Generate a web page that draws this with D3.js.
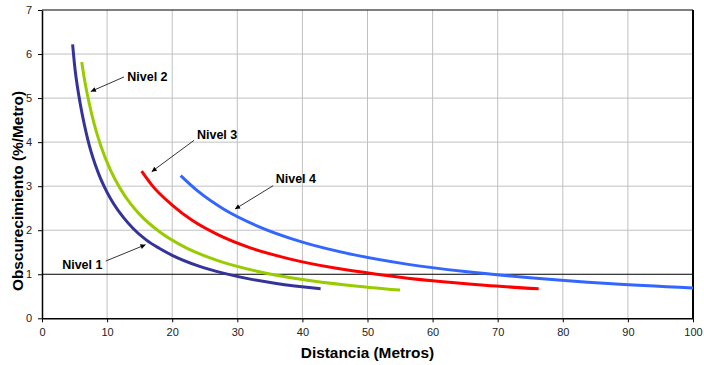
<!DOCTYPE html>
<html>
<head>
<meta charset="utf-8">
<script src="https://cdn.jsdelivr.net/npm/d3@7"></script>
<style>
  body { margin: 0; background: #fff; }
  text { font-family: Arial, "Liberation Sans", sans-serif; }
</style>
</head>
<body>
<script>
// Curves: distance (m) vs obscuration (%/m)
const nivel1Dist = [4.7, 5.1, 5.5, 6, 6.5, 7, 7.5, 8.2, 9, 10, 11, 12.5, 14, 16, 18, 20, 24, 28, 32, 36, 42.8];
const nivel1Obs  = [6.22, 5.62, 5.2, 4.77, 4.4, 4.08, 3.8, 3.48, 3.17, 2.86, 2.6, 2.29, 2.04, 1.78, 1.59, 1.43, 1.19, 1.02, 0.89, 0.79, 0.67];
const nivel2Dist = [6.1, 6.6, 7.2, 8, 9, 10.5, 12, 13.5, 15, 18, 22, 27, 33, 40, 47, 55];
const nivel2Obs  = [5.82, 5.36, 4.92, 4.42, 3.93, 3.37, 2.95, 2.62, 2.36, 1.97, 1.61, 1.31, 1.07, 0.88, 0.75, 0.64];
const nivel3Dist = [15.3, 17, 20, 23, 27, 32, 38, 45, 52, 60, 68, 76.3];
const nivel3Obs  = [3.34, 3.0, 2.57, 2.23, 1.9, 1.6, 1.35, 1.14, 0.99, 0.85, 0.75, 0.67];
const nivel4Dist = [21.3, 24, 28, 33, 40, 48, 56, 65, 75, 87, 100];
const nivel4Obs  = [3.24, 2.88, 2.47, 2.1, 1.73, 1.44, 1.23, 1.06, 0.92, 0.79, 0.69];

const seriesNames = ["Nivel 1", "Nivel 2", "Nivel 3", "Nivel 4"];
const colors = ["#333399", "#99cc00", "#ff0000", "#3366ff"];

const xTicks = d3.range(0, 101, 10);
const yTicks = d3.range(0, 8, 1);

// label text anchor + arrow (from -> to), in data units
const labelPos = [[3.1, 1.23], [13.1, 5.48], [23.8, 4.18], [35.9, 3.17]];
const arrowFrom = [[9.8, 1.30], [12.6, 5.48], [23.35, 4.04], [35.5, 3.01]];
const arrowTo = [[15.9, 1.67], [7.5, 5.15], [16.85, 3.33], [29.65, 2.48]];

const width = 704, height = 365;
const margin = {top: 10, right: 11, bottom: 47, left: 42};

const svg = d3.select("body").append("svg")
    .attr("width", width)
    .attr("height", height);

const x = d3.scaleLinear().domain([0, 100]).range([margin.left, width - margin.right]);
const y = d3.scaleLinear().domain([0, 7]).range([height - margin.bottom + 0.3, margin.top]);

svg.append("defs").append("marker")
    .attr("id", "arrow")
    .attr("viewBox", "0 0 10 10")
    .attr("refX", 10).attr("refY", 5)
    .attr("markerWidth", 7).attr("markerHeight", 5)
    .attr("markerUnits", "userSpaceOnUse")
    .attr("orient", "auto")
    .append("path")
    .attr("d", "M0,0L10,5L0,10z")
    .attr("fill", "#000");

// gridlines
svg.append("g")
    .selectAll("line")
    .data(xTicks.filter(d => d > 0 && d < 100))
    .join("line")
    .attr("x1", d => x(d)).attr("x2", d => x(d))
    .attr("y1", y(0)).attr("y2", y(7))
    .attr("stroke", "#c0c0c0");

svg.append("g")
    .selectAll("line")
    .data(yTicks.filter(d => d > 1 && d < 7))
    .join("line")
    .attr("x1", x(0)).attr("x2", x(100))
    .attr("y1", d => y(d)).attr("y2", d => y(d))
    .attr("stroke", "#c0c0c0");

// threshold line at 1 %/m
svg.append("line")
    .attr("x1", x(0)).attr("x2", x(100))
    .attr("y1", y(1)).attr("y2", y(1))
    .attr("stroke", "#000");

// frame top/right
svg.append("line")
    .attr("x1", x(0)).attr("x2", x(100))
    .attr("y1", y(7)).attr("y2", y(7))
    .attr("stroke", "#000");
svg.append("line")
    .attr("x1", x(100)).attr("x2", x(100))
    .attr("y1", y(0)).attr("y2", y(7))
    .attr("stroke", "#000").attr("stroke-width", 2);

// axes
const xAxis = svg.append("g")
    .attr("transform", `translate(0,${y(0)})`)
    .call(d3.axisBottom(x).tickValues(xTicks).tickFormat(d3.format("d"))
        .tickSize(4).tickPadding(6).tickSizeOuter(0));
const yAxis = svg.append("g")
    .attr("transform", `translate(${x(0)},0)`)
    .call(d3.axisLeft(y).tickValues(yTicks).tickFormat(d3.format("d"))
        .tickSize(4).tickPadding(6).tickSizeOuter(0));

[xAxis, yAxis].forEach(a => {
    a.select(".domain").attr("stroke", "#000").attr("stroke-width", 1.5);
    a.selectAll("text").attr("font-size", 11).attr("fill", "#222")
        .attr("font-family", "Arial, 'Liberation Sans', sans-serif");
});

// curves
const series = [
    d3.zip(nivel1Dist, nivel1Obs),
    d3.zip(nivel2Dist, nivel2Obs),
    d3.zip(nivel3Dist, nivel3Obs),
    d3.zip(nivel4Dist, nivel4Obs)
];

const line = d3.line()
    .x(d => x(d[0]))
    .y(d => y(d[1]))
    .curve(d3.curveMonotoneX);

svg.append("g")
    .selectAll("path")
    .data(series)
    .join("path")
    .attr("d", line)
    .attr("fill", "none")
    .attr("stroke", (d, i) => colors[i])
    .attr("stroke-width", 3)
    .attr("stroke-linecap", "butt");

// annotations
svg.append("g")
    .selectAll("line")
    .data(seriesNames)
    .join("line")
    .attr("x1", (d, i) => x(arrowFrom[i][0]))
    .attr("y1", (d, i) => y(arrowFrom[i][1]))
    .attr("x2", (d, i) => x(arrowTo[i][0]))
    .attr("y2", (d, i) => y(arrowTo[i][1]))
    .attr("stroke", "#000")
    .attr("stroke-width", 0.8)
    .attr("marker-end", "url(#arrow)");

svg.append("g")
    .selectAll("text")
    .data(seriesNames)
    .join("text")
    .attr("x", (d, i) => x(labelPos[i][0]))
    .attr("y", (d, i) => y(labelPos[i][1]))
    .attr("dy", "0.35em")
    .attr("font-size", 12.5)
    .attr("font-weight", "bold")
    .attr("fill", "#000")
    .text(d => d);

// axis titles
svg.append("text")
    .attr("x", (x(0) + x(100)) / 2)
    .attr("y", 358)
    .attr("text-anchor", "middle")
    .attr("font-size", 15.4)
    .attr("font-weight", "bold")
    .text("Distancia (Metros)");

svg.append("text")
    .attr("transform", "translate(23,191) rotate(-90)")
    .attr("text-anchor", "middle")
    .attr("font-size", 15.4)
    .attr("font-weight", "bold")
    .text("Obscurecimiento (%/Metro)");
</script>
</body>
</html>
